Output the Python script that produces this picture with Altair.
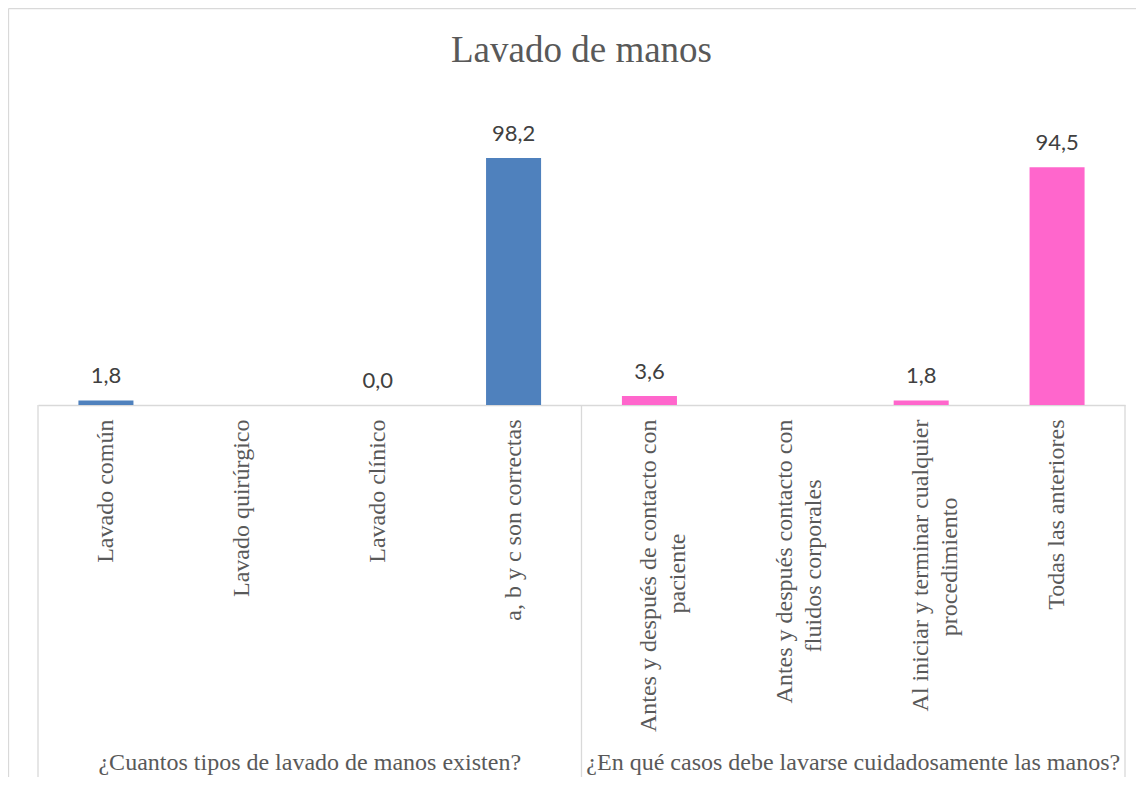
import altair as alt
import pandas as pd

NB = "\u00a0"
WJ = "\u2060"

categories = [
    "Lavado común",
    "Lavado quirúrgico",
    "Lavado clínico",
    "a, b y c son correctas",
    "Antes y después de contacto con|paciente" + NB * 19 + WJ,
    "Antes y después contacto con|fluidos corporales" + NB * 10 + WJ,
    "Al iniciar  y terminar cualquier|procedimiento" + NB * 13 + WJ,
    "Todas las anteriores",
]
groups = [
    "¿Cuantos tipos de lavado de manos existen?",
    "¿En qué casos debe lavarse cuidadosamente las manos?",
]
group_index = [0, 0, 0, 0, 1, 1, 1, 1]
values = [1.8, None, 0.0, 98.2, 3.6, None, 1.8, 94.5]
value_labels = ["1,8", "", "0,0", "98,2", "3,6", "", "1,8", "94,5"]
colors = ["#4F81BD", "#FF66CC"]
title_text = "Lavado de manos"

W, H = 1087, 307
PAD = {"left": 30, "top": 90, "right": 11, "bottom": 372}

df = pd.DataFrame({
    "cat": categories,
    "group": [groups[i] for i in group_index],
    "value": values,
    "label": value_labels,
})
df_g = pd.DataFrame({"group": groups})
df_one = pd.DataFrame({"t": [title_text]})

serif = "Liberation Serif"
grey = "#595959"
line = "#D9D9D9"

xscale = alt.Scale(domain=categories, paddingInner=0.595, paddingOuter=0.2975)
gscale = alt.Scale(domain=groups, paddingInner=0, paddingOuter=0)
yscale = alt.Scale(domain=[0, 122])

bars = alt.Chart(df).mark_bar().encode(
    x=alt.X("cat:N", sort=categories, scale=xscale, title=None,
            axis=alt.Axis(labelAngle=-90, labelExpr="split(datum.label, '|')",
                          labelFont=serif, labelFontSize=24, labelColor=grey,
                          labelLineHeight=29, labelLimit=600, labelPadding=14,
                          ticks=False, domainColor=line, domainWidth=1.3,
                          labelAlign="right", labelBaseline="middle")),
    y=alt.Y("value:Q", scale=yscale, axis=None),
    color=alt.Color("group:N", scale=alt.Scale(domain=groups, range=colors), legend=None),
)

texts = alt.Chart(df).transform_filter("datum.value != null").mark_text(
    baseline="alphabetic", dy=-17, font="Lato", fontSize=22, color="#404040"
).encode(
    x=alt.X("cat:N", sort=categories, scale=xscale, axis=None),
    y=alt.Y("value:Q", scale=yscale, axis=None),
    text="label:N",
)

group_text = alt.Chart(df_g).mark_text(
    baseline="alphabetic", font=serif, fontSize=24, color=grey
).encode(
    x=alt.X("group:N", scale=gscale, axis=None),
    y=alt.value(H + 365),
    text="group:N",
)

sep_left = alt.Chart(df_g).mark_rule(color=line, strokeWidth=1.3).encode(
    x=alt.X("group:N", scale=gscale, axis=None, bandPosition=0),
    y=alt.value(H),
    y2=alt.value(H + 372),
)

sep_right = alt.Chart(df_g).transform_filter(
    alt.datum.group == groups[1]
).mark_rule(color=line, strokeWidth=1.3).encode(
    x=alt.X("group:N", scale=gscale, axis=None, bandPosition=1),
    y=alt.value(H),
    y2=alt.value(H + 372),
)

frame_left = alt.Chart(df_one).mark_rule(color=line, strokeWidth=1.3).encode(
    x=alt.value(-29.5), y=alt.value(-89.5), y2=alt.value(H + 372)
)
frame_top = alt.Chart(df_one).mark_rule(color=line, strokeWidth=1.3).encode(
    x=alt.value(-29.5), x2=alt.value(W + 11), y=alt.value(-89.5)
)

title = alt.Chart(df_one).mark_text(
    baseline="alphabetic", align="center", font=serif, fontSize=37, color=grey
).encode(
    x=alt.value(W / 2), y=alt.value(-36), text="t:N"
)

chart = alt.layer(
    frame_left, frame_top, sep_left, sep_right, bars, texts, group_text, title
).resolve_scale(x="independent").properties(
    width=W, height=H,
    autosize=alt.AutoSizeParams(type="none"),
    padding=PAD,
).configure_view(stroke=None)

chart.save("out.html", embed_options={"renderer": "svg", "actions": False})
